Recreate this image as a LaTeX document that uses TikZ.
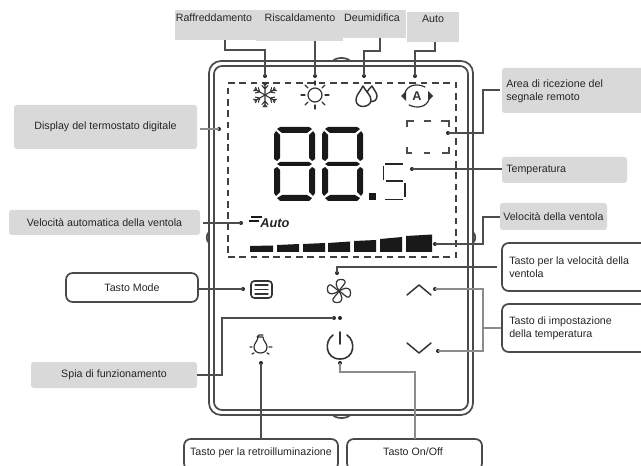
\documentclass[tikz,border=0pt]{standalone}
\usepackage{fontspec}
\setmainfont{Liberation Sans}
\newcommand{\eightseg}[2]{%
\begin{scope}[shift={(#1,#2)}]
\fill[seg] (6,0)--(35,0)--(38,2)--(33,6)--(8,6)--(3,2)--cycle;
\fill[seg] (0,7)--(2,4)--(6,8)--(6,31)--(3,34)--(0,32)--cycle;
\fill[seg] (41,7)--(39,4)--(35,8)--(35,31)--(38,34)--(41,32)--cycle;
\fill[seg] (6,35)--(35,35)--(38,37)--(35,39)--(6,39)--(3,37)--cycle;
\fill[seg] (0,42)--(3,40)--(6,43)--(6,65)--(2,69)--(0,66)--cycle;
\fill[seg] (41,42)--(38,40)--(35,43)--(35,65)--(39,69)--(41,66)--cycle;
\fill[seg] (3,71)--(8,68)--(33,68)--(38,71)--(35,74)--(6,74)--cycle;
\end{scope}}
\tikzset{
  x=.75pt,y=-.75pt,
  pxbox/.style n args={4}{minimum width={(#3-#1)*0.75pt},minimum height={(#4-#2)*0.75pt},
     at={({(#1+#3)/2},{(#2+#4)/2})},inner sep=0pt,anchor=center},
  greybox/.style={fill=boxgrey,draw=none,rounded corners=2pt,font=\lab,text=labtext},
  topbox/.style={fill=boxgrey,draw=none,font=\lab,text=labtext},
  whitebox/.style={fill=white,draw=framegrey,line width=1.3pt,rounded corners=5pt,font=\lab,text=labtext},
  lab/.style={font=\lab,text=labtext,inner sep=0pt,align=left},
  conn/.style={draw=conngrey,line width=1pt},
  connlight/.style={draw=lightconn,line width=1pt},
  dotm/.style={fill=black!85,circle,inner sep=0pt,minimum size=3pt},
  frame/.style={draw=framegrey,line width=1.3pt},
  icon/.style={draw=icondark,line width=.9pt,line cap=round,line join=round},
  seg/.style={fill=black!90,line join=round},
}
\newcommand{\lab}{\fontsize{8}{9.8}\selectfont}
\definecolor{boxgrey}{HTML}{D9D9D9}
\definecolor{labtext}{HTML}{262626}
\definecolor{framegrey}{HTML}{4A4A4A}
\definecolor{conngrey}{HTML}{4D4D4D}
\definecolor{lightconn}{HTML}{8C8C8C}
\definecolor{icondark}{HTML}{333333}
\begin{document}
\begin{tikzpicture}
\useasboundingbox (0,0) rectangle (641,466);
% device frame
\draw[frame] (333,61) .. controls (336,57) and (347,57) .. (350,61);
\draw[frame] (333,415) .. controls (336,419) and (347,419) .. (350,415);
\draw[frame] (209,232) .. controls (206,235) and (206,240) .. (209,243);
\draw[frame] (473,232) .. controls (476,235) and (476,240) .. (473,243);
\node[frame,fill=white,rounded corners=9pt,pxbox={209}{61}{473}{415}] (outer) {};
\node[frame,rounded corners=6pt,pxbox={214}{66}{468}{410}] (inner) {};
% dashed areas
\node[draw=black!75,dashed,line width=.9pt,dash pattern=on 5pt off 3.5pt,pxbox={228}{83}{456}{257}] (display) {};
\draw[draw=black!70,line width=.9pt] (407,127)--(407,121)--(414,121) (424,121)--(431,121) (441,121)--(449,121)--(449,127)
  (407,147)--(407,153)--(412,153) (424,153)--(430,153) (442,153)--(449,153)--(449,147);
% digits
\eightseg{274}{127}
\eightseg{322}{127}
\fill[seg] (369,193) rectangle (376,200);
\draw[black!85,line width=1.4pt] (385,164)--(403,164) (383.5,166)--(383.5,180) (386,181)--(403,181) (405,183)--(405,197) (385,199.5)--(403,199.5);
% auto fan
\draw[black!90,line width=1pt] (251,217)--(262,217) (249,221)--(259,221);
\node[font=\fontsize{9.6}{10}\selectfont\bfseries\itshape,text=black!85,inner sep=0pt,anchor=west] (autotxt) at (260,223) {Auto};
\fill[seg] (250,246)--(273,245.5)--(273,252)--(250,252)--cycle;
\fill[seg] (277,245)--(299,244)--(299,252)--(277,252)--cycle;
\fill[seg] (303,244)--(325,243)--(325,252)--(303,252)--cycle;
\fill[seg] (328,243)--(350,241.5)--(350,252)--(328,252)--cycle;
\fill[seg] (354,241)--(376,240)--(376,252)--(354,252)--cycle;
\fill[seg] (380,239)--(402,237)--(402,252)--(380,252)--cycle;
\fill[seg] (406,236)--(432,234.5)--(432,252)--(406,252)--cycle;
% snowflake
\begin{scope}[shift={(265,95)}]
\foreach \a in {30,90,150,210,270,330}{
 \begin{scope}[rotate=\a]
  \draw[icon,line width=.8pt] (0,0)--(12,0) (6,0)--(9.5,-3) (6,0)--(9.5,3) (9.5,0)--(12,-2) (9.5,0)--(12,2);
 \end{scope}}
\end{scope}
% sun
\node[icon,circle,minimum size=10.5pt,inner sep=0pt] (sun) at (315,95) {};
\foreach \a in {0,45,...,315}{
 \draw[icon,shift={(315,95)},rotate=\a] (10,0)--(14,0);}
% drops
\draw[icon,line width=1.1pt] (363,86) .. controls (360,92) and (356,95) .. (356,100) .. controls (356,104) and (359,106.5) .. (363,106.5) .. controls (367,106.5) and (371,104) .. (371,100) .. controls (371,95) and (366,92) .. (363,86) -- cycle;
\draw[icon,line width=1.1pt] (367,92) .. controls (368,90) and (370,88) .. (372,86) .. controls (374,90) and (377,93) .. (377,96) .. controls (377,100) and (374,102) .. (371,101.5);
% A icon
\node[font=\fontsize{9.5}{10}\selectfont\bfseries,text=icondark,inner sep=0pt] (aicon) at (417,96) {A};
\draw[icon] (405,93) .. controls (407,85) and (417,83) .. (425,87);
\draw[icon] (429,99) .. controls (427,107) and (417,109) .. (409,105);
\fill[icondark] (401,96)--(406,91)--(406,101)--cycle;
\fill[icondark] (433,96)--(428,91)--(428,101)--cycle;
% mode icon
\node[icon,rounded corners=2.5pt,line width=1.2pt,pxbox={251}{281}{272}{298}] (modeicon) {};
\draw[icon] (255,285)--(268,285) (255,289.5)--(268,289.5) (255,294)--(268,294);
% fan
\begin{scope}[shift={(339,291)}]
\foreach \a in {0,90,180,270}{
 \draw[icon,rotate=\a] (0,0) .. controls (-3,-5) and (-4,-9) .. (-1,-11) .. controls (3,-12.5) and (7,-11) .. (6,-8) .. controls (5,-5) and (2,-4) .. (0,0);}
\end{scope}
% chevrons
\draw[icon,line width=1.1pt] (407,295)--(419,285)--(431,295);
\draw[icon,line width=1.1pt] (407,343)--(419,353)--(431,343);
% power
\draw[icon,line width=1.2pt] (333,335) .. controls (324,341) and (325,359) .. (340,359) .. controls (355,359) and (356,341) .. (347,335);
\draw[icon,line width=1.2pt] (340,332)--(340,344);
% bulb
\draw[icon] (257,337)--(259,335)--(263,335) (258,337) .. controls (258,341) and (254,343) .. (254,347) .. controls (254,351) and (257,353) .. (260.5,353) .. controls (264,353) and (267,351) .. (267,347) .. controls (267,343) and (263,341) .. (263,337) -- (258,337);
\draw[icon] (250,347)--(252,347) (269,347)--(272,347) (252,354)--(254,353) (267,353)--(269,354);
% dots
\coordinate (d1) at (265,76);\coordinate (d2) at (315,76);\coordinate (d3) at (364,76);\coordinate (d4) at (415,76);
\coordinate (dDisp) at (219,129);\coordinate (dAutoFan) at (241,223);\coordinate (dMode) at (243,289);
\coordinate (dSpia) at (334,318);\coordinate (dSpiaB) at (340,318);\coordinate (dBulb) at (261,363);\coordinate (dOn) at (340,363);
\coordinate (dArea) at (448,133);\coordinate (dTemp) at (412,169);\coordinate (dVel) at (435,244);
\coordinate (dFan) at (337,273);\coordinate (dUp) at (435,289);\coordinate (dDown) at (438,351);
\foreach \p in {d1,d2,d3,d4,dDisp,dAutoFan,dMode,dSpia,dSpiaB,dBulb,dOn,dArea,dTemp,dVel,dFan,dUp,dDown}{\node[dotm] at (\p) {};}
% boxes
\node[topbox,pxbox={175}{10}{256}{40}] (raff) {};
\node[topbox,pxbox={256}{10}{343}{41}] (risc) {};
\node[topbox,pxbox={343}{10}{406}{38}] (deum) {};
\node[topbox,pxbox={407}{12}{459}{42}] (autob) {};
\node[lab] (traff) at (214,18) {Raffreddamento};
\node[lab] (trisc) at (300,18) {Riscaldamento};
\node[lab] (tdeum) at (372,18) {Deumidifica};
\node[lab] (tauto) at (433,19) {Auto};
\node[greybox,pxbox={14}{105}{197}{149}] (bDisp) {Display del termostato digitale};
\node[greybox,pxbox={9}{210}{200}{235}] (bAuto) {Velocità automatica della ventola};
\node[whitebox,pxbox={66}{273}{198}{302}] (bMode) {Tasto Mode};
\node[greybox,pxbox={31}{362}{197}{388}] (bSpia) {Spia di funzionamento};
\node[whitebox,pxbox={184}{439}{338}{470}] (bRetro) {};
\node[lab] (tRetro) at (261,453) {Tasto per la retroilluminazione};
\node[whitebox,pxbox={347}{439}{482}{470}] (bOn) {};
\node[lab] (tOn) at (413,452) {Tasto On/Off};
\node[greybox,pxbox={502}{68}{645}{113}] (bArea) {};
\node[lab,anchor=west] (tArea) at (506,91) {Area di ricezione del\\segnale remoto};
\node[greybox,pxbox={502}{157}{627}{183}] (bTemp) {};
\node[lab,anchor=west] (tTemp) at (506,170) {Temperatura};
\node[greybox,pxbox={500}{203}{607}{230}] (bVel) {};
\node[lab,anchor=west] (tVel) at (503,217) {Velocità della ventola};
\node[whitebox,pxbox={502}{243}{660}{291}] (bFan) {};
\node[lab,anchor=west] (tFan) at (509,267) {Tasto per la velocità della\\ventola};
\node[whitebox,pxbox={502}{304}{660}{352}] (bTemp2) {};
\node[lab,anchor=west] (tSet) at (509,328) {Tasto di impostazione\\della temperatura};
% connectors
\draw[conn] (225,40.5)--(225,50)--(265,50)--(d1);
\draw[conn] (315,41)--(d2);
\draw[conn] (380,38)--(380,51)--(364,51)--(d3);
\draw[conn] (435,42)--(435,51)--(415,51)--(d4);
\draw[connlight] (bDisp.east |- dDisp) ++(3,0)--(dDisp);
\draw[conn] (bAuto.east |- dAutoFan) ++(3,0)--(dAutoFan);
\draw[conn] (bMode.east |- dMode)--(dMode);
\draw[conn] (bSpia.east)--(222,375)--(222,318)--(dSpia);
\draw[conn] (dBulb)--(dBulb |- bRetro.north);
\draw[connlight] (dOn)--(340,372)--(415,372)--(415,439);
\draw[conn] (bArea.west |- 0,90) ++(-2,0)--(483,90)--(483,133)--(dArea);
\draw[conn] (bTemp.west |- dTemp)--(dTemp);
\draw[conn] (bVel.west |- 0,217)--(483,217)--(483,244)--(dVel);
\draw[conn] (bFan.west |- 0,267) ++(-4,0)--(337,267)--(dFan);
\draw[connlight] (dUp)--(483,289)--(483,351)--(dDown);
\draw[connlight] (483,328)--(bTemp2.west |- 0,328);
\end{tikzpicture}
\end{document}
